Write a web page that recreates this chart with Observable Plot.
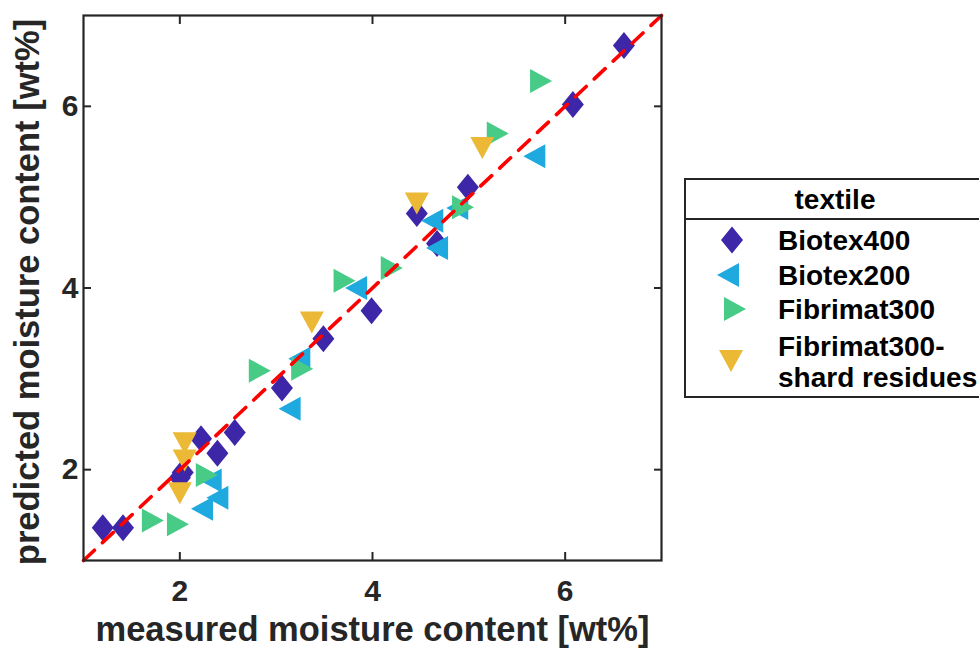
<!DOCTYPE html>
<html>
<head>
<meta charset="utf-8">
<script src="https://cdn.jsdelivr.net/npm/d3@7"></script>
<script src="https://cdn.jsdelivr.net/npm/@observablehq/plot@0.6"></script>
<style>
  html, body { margin: 0; padding: 0; background: #fff; }
  #wrap { position: relative; width: 979px; height: 650px; overflow: hidden;
          font-family: "Liberation Sans", Arial, Helvetica, sans-serif; }
  #legend { position: absolute; left: 0; top: 0; }
</style>
</head>
<body>
<div id="wrap"></div>
<script>
// Textile series, in drawing order
const categories = ["Biotex400", "Biotex200", "Fibrimat300", "Fibrimat300-shard residues"];
const legendLines = [["Biotex400"], ["Biotex200"], ["Fibrimat300"], ["Fibrimat300-", "shard residues"]];
const colors = ["#3d26a8", "#1ea9df", "#47cb86", "#ebb935"];

// measured vs predicted moisture content [wt%]
const biotex400Measured  = [1.20, 1.41, 2.00, 2.03, 2.22, 2.39, 2.57, 3.06, 3.49, 3.99, 4.46, 4.67, 4.99, 6.08, 6.61];
const biotex400Predicted = [1.36, 1.36, 1.91, 1.97, 2.34, 2.18, 2.41, 2.90, 3.44, 3.75, 4.82, 4.49, 5.11, 6.02, 6.67];

const biotex200Measured  = [2.23, 2.39, 2.32, 3.14, 3.24, 3.83, 4.62, 4.67, 4.88, 5.68];
const biotex200Predicted = [1.57, 1.69, 1.88, 2.67, 3.22, 4.00, 4.74, 4.44, 4.88, 5.45];

const fibrimat300Measured  = [1.72, 1.98, 2.28, 2.83, 3.27, 3.71, 4.20, 4.94, 5.30, 5.75];
const fibrimat300Predicted = [1.44, 1.40, 1.94, 3.09, 3.11, 4.08, 4.22, 4.89, 5.70, 6.28];

const shardMeasured  = [2.05, 2.05, 2.00, 3.37, 4.46, 5.14];
const shardPredicted = [2.29, 2.10, 1.74, 3.62, 4.93, 5.54];

// identity reference line and axis ticks
const identityLine = [1, 7];
const axisTicks = [2, 4, 6];
const xLabel = "measured moisture content [wt%]";
const yLabel = "predicted moisture content [wt%]";
const legendTitle = "textile";

// marker shapes (fixed pixel size)
function polygon(pts) {
  return {
    draw(ctx) {
      ctx.moveTo(pts[0][0], pts[0][1]);
      for (let i = 1; i < pts.length; ++i) ctx.lineTo(pts[i][0], pts[i][1]);
      ctx.closePath();
    }
  };
}
const diamond = polygon([[0, -13.5], [11, 0], [0, 13.5], [-11, 0]]);
const triLeft = polygon([[-11, 0], [11, -12], [11, 12]]);
const triRight = polygon([[11, 0], [-11, -12], [-11, 12]]);
const triDown = polygon([[0, 11], [-12, -11], [12, -11]]);
const symbols = [diamond, triLeft, triRight, triDown];

const series = [
  [biotex400Measured, biotex400Predicted],
  [biotex200Measured, biotex200Predicted],
  [fibrimat300Measured, fibrimat300Predicted],
  [shardMeasured, shardPredicted]
].map(([mx, py]) => mx.map((m, i) => ({measured: m, predicted: py[i]})));

const axisColor = "#262626";
const fontFamily = "'Liberation Sans', Arial, Helvetica, sans-serif";
const tickFmt = (d) => String(d);

const plot = Plot.plot({
  width: 979,
  height: 650,
  marginLeft: 83,
  marginRight: 318,
  marginTop: 15,
  marginBottom: 90,
  style: {fontFamily, fontWeight: "bold", color: axisColor, background: "#fff"},
  x: {domain: [1, 7]},
  y: {domain: [1, 7]},
  marks: [
    ...series.map((d, k) => Plot.dot(d, {
      x: "measured", y: "predicted", symbol: symbols[k], fill: colors[k], stroke: "none", r: 10
    })),
    Plot.line(identityLine.map((v) => ({a: v, b: v})), {
      x: "a", y: "b", stroke: "#ff0000", strokeWidth: 3.6, strokeDasharray: "15,11"
    }),
    Plot.frame({stroke: axisColor, strokeWidth: 2.2}),
    Plot.axisX({anchor: "bottom", ticks: axisTicks, tickFormat: tickFmt, tickSize: -8, tickPadding: 27, fontSize: 30, label: null, stroke: axisColor, strokeWidth: 2}),
    Plot.axisX({anchor: "top", ticks: axisTicks, tickSize: -8, tickFormat: () => "", label: null, stroke: axisColor, strokeWidth: 2}),
    Plot.axisY({anchor: "left", ticks: axisTicks, tickFormat: tickFmt, tickSize: -8, tickPadding: 13, fontSize: 30, label: null, stroke: axisColor, strokeWidth: 2}),
    Plot.axisY({anchor: "right", ticks: axisTicks, tickSize: -8, tickFormat: () => "", label: null, stroke: axisColor, strokeWidth: 2}),
    Plot.text([xLabel], {frameAnchor: "bottom", dy: 80, fontSize: 34.5, fontWeight: "bold", fill: axisColor}),
    Plot.text([yLabel], {frameAnchor: "left", textAnchor: "middle", dx: -56, dy: 4, rotate: -90, fontSize: 34.5, fontWeight: "bold", fill: axisColor})
  ]
});

const wrap = document.getElementById("wrap");
wrap.appendChild(plot);

// legend box drawn beside the axes
const leg = d3.select(wrap).append("svg")
  .attr("id", "legend")
  .attr("width", 979).attr("height", 650)
  .style("pointer-events", "none");

const box = {left: 685, top: 179, right: 990, bottom: 397, divider: 219};
leg.append("rect")
  .attr("x", box.left).attr("y", box.top)
  .attr("width", box.right - box.left).attr("height", box.bottom - box.top)
  .attr("fill", "#fff").attr("stroke", axisColor).attr("stroke-width", 2);
leg.append("line")
  .attr("x1", box.left).attr("x2", box.right)
  .attr("y1", box.divider).attr("y2", box.divider)
  .attr("stroke", axisColor).attr("stroke-width", 2);
leg.append("text")
  .attr("x", 835).attr("y", 199)
  .attr("text-anchor", "middle").attr("dominant-baseline", "central")
  .attr("font-family", fontFamily).attr("font-weight", "bold").attr("font-size", 28)
  .attr("fill", "#000")
  .text(legendTitle);

const rowY = [240, 275, 309, 361];
const symX = [732, 728, 735, 731];
const lineGap = 31;
categories.forEach((c, k) => {
  const p = d3.path();
  symbols[k].draw(p);
  leg.append("path")
    .attr("d", p.toString())
    .attr("transform", `translate(${symX[k]},${rowY[k]})`)
    .attr("fill", colors[k]);
  const lines = legendLines[k];
  const t = leg.append("text")
    .attr("font-family", fontFamily).attr("font-weight", "bold").attr("font-size", 28)
    .attr("fill", "#000")
    .attr("dominant-baseline", "central");
  lines.forEach((s, j) => {
    t.append("tspan")
      .attr("x", 778)
      .attr("y", rowY[k] + (j - (lines.length - 1) / 2) * lineGap)
      .text(s);
  });
});
</script>
</body>
</html>
